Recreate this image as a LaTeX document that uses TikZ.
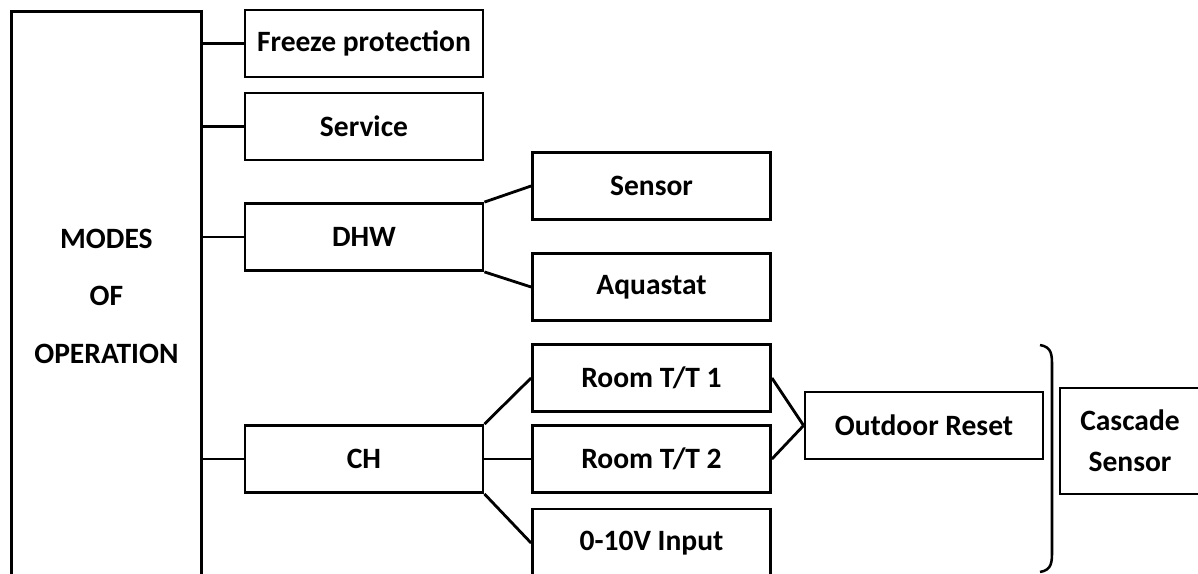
\documentclass[tikz,border=0pt]{standalone}
\usepackage{fontspec}
\setmainfont{Carlito}
\begin{document}
\begin{tikzpicture}[x=0.25mm,y=-0.25mm,
  every node/.style={font=\fontsize{21}{25}\selectfont\bfseries},
  box/.style={draw,line width=2pt,inner sep=0pt,minimum width=59.5mm,minimum height=16.75mm},
  conn/.style={line width=2pt}]
\useasboundingbox (0,0) rectangle (1198,574);
\clip (0,0) rectangle (1198,574);
% main box
\node[draw,line width=2pt,inner sep=0pt,minimum width=47.5mm,minimum height=142.5mm,anchor=north west,
      align=center,font=\fontsize{21}{41}\selectfont\bfseries] (modes) at (10,10) {MODES\\OF\\OPERATION};
% level 1
\node[box] (fp)  at (364,43.5)  {Freeze protection};
\node[box] (svc) at (364,126.5) {Service};
\node[box] (dhw) at (364,237)   {DHW};
\node[box] (ch)  at (364,459)   {CH};
% level 2
\node[box] (sen) at (651.5,186)   {Sensor};
\node[box] (aq)  at (651.5,287)   {Aquastat};
\node[box] (rt1) at (651.5,378)   {Room T/T 1};
\node[box] (rt2) at (651.5,459)   {Room T/T 2};
\node[box,minimum height=17mm] (vin) at (651.5,543) {0-10V Input};
% level 3
\node[box] (odr) at (924,425.5) {Outdoor Reset};
\node[draw,line width=2pt,inner sep=0pt,minimum width=35mm,minimum height=26.5mm,align=center,
      font=\fontsize{21}{29}\selectfont\bfseries] (casc) at (1130,441) {Cascade\\Sensor};
% connectors
\draw[conn] (modes.east |- fp.west) -- (fp.west);
\draw[conn] (modes.east |- svc.west) -- (svc.west);
\draw[conn] (modes.east |- dhw.west) -- (dhw.west);
\draw[conn] (modes.east |- ch.west) -- (ch.west);
\draw[conn] (dhw.north east) -- (sen.west);
\draw[conn] (dhw.south east) -- (aq.west);
\draw[conn] (ch.north east) -- (rt1.west);
\draw[conn] (ch.east) -- (rt2.west);
\draw[conn] (ch.south east) -- (vin.west);
\draw[conn] (rt1.east) -- (odr.west);
\draw[conn] (rt2.east) -- (odr.west);
% brace
\coordinate (bt) at (1040,345);
\coordinate (bb) at (1040,572);
\draw[line width=1.8pt] (bt) .. controls (1052,347) and (1052,355) .. (1052,366)
  -- (1052,551) .. controls (1052,562) and (1052,570) .. (bb);
\end{tikzpicture}
\end{document}
